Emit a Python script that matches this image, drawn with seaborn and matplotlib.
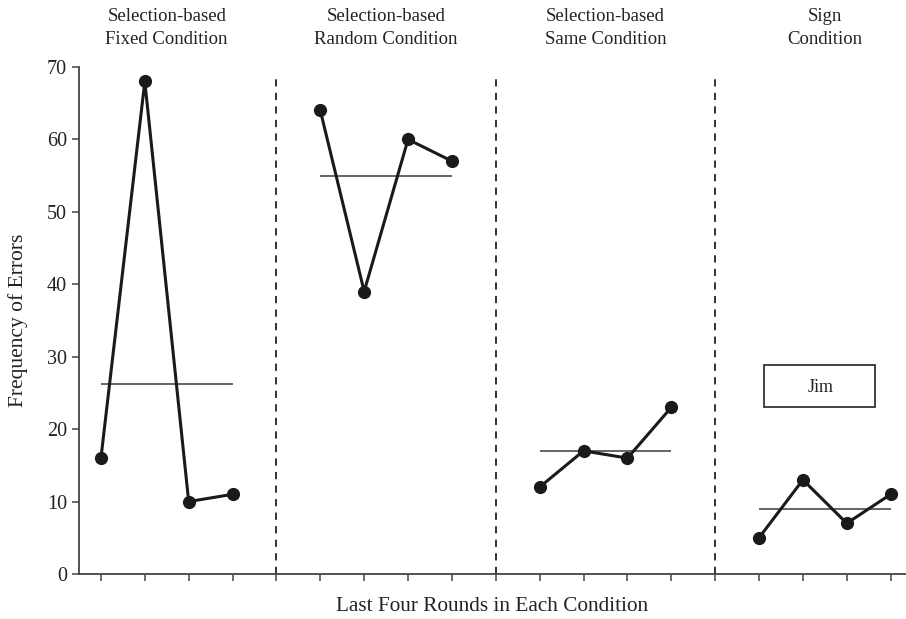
import numpy as np
import pandas as pd
import matplotlib
matplotlib.use("Agg")
import matplotlib.pyplot as plt
import seaborn as sns

# Conditions and errors over the last four rounds of each
conditions = ["Selection-based\nFixed Condition",
              "Selection-based\nRandom Condition",
              "Selection-based\nSame Condition",
              "Sign\nCondition"]
fixed_errors = [16, 68, 10, 11]
random_errors = [64, 39, 60, 57]
same_errors = [12, 17, 16, 23]
sign_errors = [5, 13, 7, 11]
series = [fixed_errors, random_errors, same_errors, sign_errors]
y_ticks = [0, 10, 20, 30, 40, 50, 60, 70]
box_label = "Jim"

rows = []
for gi, (cond, vals) in enumerate(zip(conditions, series)):
    for ri, v in enumerate(vals):
        rows.append({"condition": cond, "pos": gi * 5 + ri + 1, "errors": v})
df = pd.DataFrame(rows)

sns.set_theme(style="ticks")
plt.rcParams["font.family"] = ["Liberation Serif", "DejaVu Serif"]

fig = plt.figure(figsize=(9.06, 6.19), dpi=100)
ax = fig.add_axes([0.0872, 0.0727, 0.9128, 0.8191])

sns.lineplot(data=df, x="pos", y="errors", units="condition", estimator=None,
             color="#1a1a1a", linewidth=2.2, marker="o", markersize=9.5,
             markeredgewidth=0, ax=ax)

# Phase mean lines and titles
for gi, cond in enumerate(conditions):
    sub = df[df["condition"] == cond]
    ax.hlines(sub["errors"].mean(), sub["pos"].min(), sub["pos"].max(),
              color="#3a3a3a", linewidth=1.1, zorder=1)
    ax.text(sub["pos"].mean(), 1.037, cond, transform=ax.get_xaxis_transform(),
            ha="center", va="bottom", fontsize=13.5, color="#222222",
            linespacing=1.45)

# Phase change lines
for xb in [5, 10, 15]:
    ax.plot([xb, xb], [0, 69.2], linestyle=(0, (4, 3.5)), color="#222222",
            linewidth=1.3, zorder=0)

# Participant label box
ax.text(17.4, 25.8, box_label, ha="center", va="center", fontsize=13,
        color="#222222")
ax.add_patch(plt.Rectangle((16.12, 23.1), 2.53, 5.8, fill=False,
                           edgecolor="#333333", linewidth=1.3))

ax.set_xlim(0.5, 19.35)
ax.set_ylim(0, 70)
ax.set_yticks(y_ticks)
ax.set_xticks([p for p in range(1, 20)])
ax.set_xticklabels([])
ax.tick_params(axis="both", direction="out", length=5, width=1.1,
               colors="#444444", labelsize=14.5, labelcolor="#222222")
for s in ["top", "right"]:
    ax.spines[s].set_visible(False)
for s in ["left", "bottom"]:
    ax.spines[s].set_color("#444444")
    ax.spines[s].set_linewidth(1.3)

ax.set_xlabel("Last Four Rounds in Each Condition", fontsize=15.3,
              color="#222222", labelpad=8)
ax.set_ylabel("Frequency of Errors", fontsize=15.5, color="#222222",
              labelpad=14)

fig.savefig("out.png", dpi=100)
